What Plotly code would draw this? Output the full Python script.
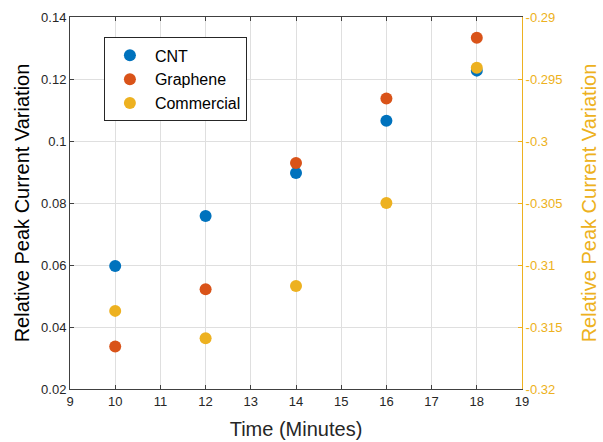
import plotly.graph_objects as go

time = [10, 12, 14, 16, 18]
cnt = [0.0597, 0.0758, 0.0897, 0.1065, 0.1227]
graphene = [0.0337, 0.0522, 0.0929, 0.1137, 0.1333]
commercial = [-0.3137, -0.3159, -0.3117, -0.3050, -0.2941]

x_ticks = list(range(9, 20))
left_ticks = [0.02, 0.04, 0.06, 0.08, 0.1, 0.12, 0.14]
left_labels = ["0.02", "0.04", "0.06", "0.08", "0.1", "0.12", "0.14"]
right_ticks = [-0.32, -0.315, -0.31, -0.305, -0.3, -0.295, -0.29]
right_labels = ["-0.32", "-0.315", "-0.31", "-0.305", "-0.3", "-0.295", "-0.29"]

BLUE = "#0072BD"
ORANGE = "#D95319"
YELLOW = "#EDB120"
DARK = "#262626"
FONT = "Liberation Sans, Arial, sans-serif"

fig = go.Figure()
fig.add_trace(go.Scatter(x=time, y=cnt, mode="markers", name="CNT",
                         marker=dict(color=BLUE, size=12)))
fig.add_trace(go.Scatter(x=time, y=graphene, mode="markers", name="Graphene",
                         marker=dict(color=ORANGE, size=12)))
fig.add_trace(go.Scatter(x=time, y=commercial, mode="markers", name="Commercial",
                         marker=dict(color=YELLOW, size=12), yaxis="y2"))

fig.update_layout(
    width=603, height=442,
    margin=dict(l=70, r=81, t=17, b=53),
    plot_bgcolor="white", paper_bgcolor="white",
    font=dict(family=FONT, color=DARK, size=13),
    showlegend=True,
    legend=dict(x=0.075, y=0.945, xanchor="left", yanchor="top",
                bordercolor=DARK, borderwidth=1, bgcolor="white",
                font=dict(size=16, family=FONT, color="black"),
                itemwidth=40),
    xaxis=dict(range=[9, 19], tickvals=x_ticks, ticktext=[str(v) for v in x_ticks],
               showgrid=True, gridcolor="#DFDFDF", gridwidth=1, automargin=False,
               showline=True, linecolor="#404040", linewidth=1, mirror="ticks",
               ticks="inside", ticklen=4, tickcolor="#404040",
               tickfont=dict(size=13, color=DARK), zeroline=False,
               title=dict(text="Time (Minutes)", font=dict(size=20, color=DARK), standoff=14)),
    yaxis=dict(range=[0.02, 0.14], tickvals=left_ticks, ticktext=left_labels,
               showgrid=True, gridcolor="#DFDFDF", gridwidth=1, automargin=False,
               showline=True, linecolor="#404040", linewidth=1,
               ticks="inside", ticklen=4, tickcolor="#404040",
               tickfont=dict(size=13, color=DARK), zeroline=False,
               title=dict(text="Relative Peak Current Variation", font=dict(size=20, color="black"), standoff=6)),
    yaxis2=dict(range=[-0.32, -0.29], tickvals=right_ticks, ticktext=right_labels,
                overlaying="y", side="right", showgrid=False, automargin=False,
                showline=True, linecolor=YELLOW, linewidth=1,
                ticks="inside", ticklen=4, tickcolor=YELLOW,
                tickfont=dict(size=13, color=YELLOW), zeroline=False,
                title=dict(text="Relative Peak Current Variation", font=dict(size=20, color=YELLOW), standoff=20)),
)

fig.write_html("out.html")
